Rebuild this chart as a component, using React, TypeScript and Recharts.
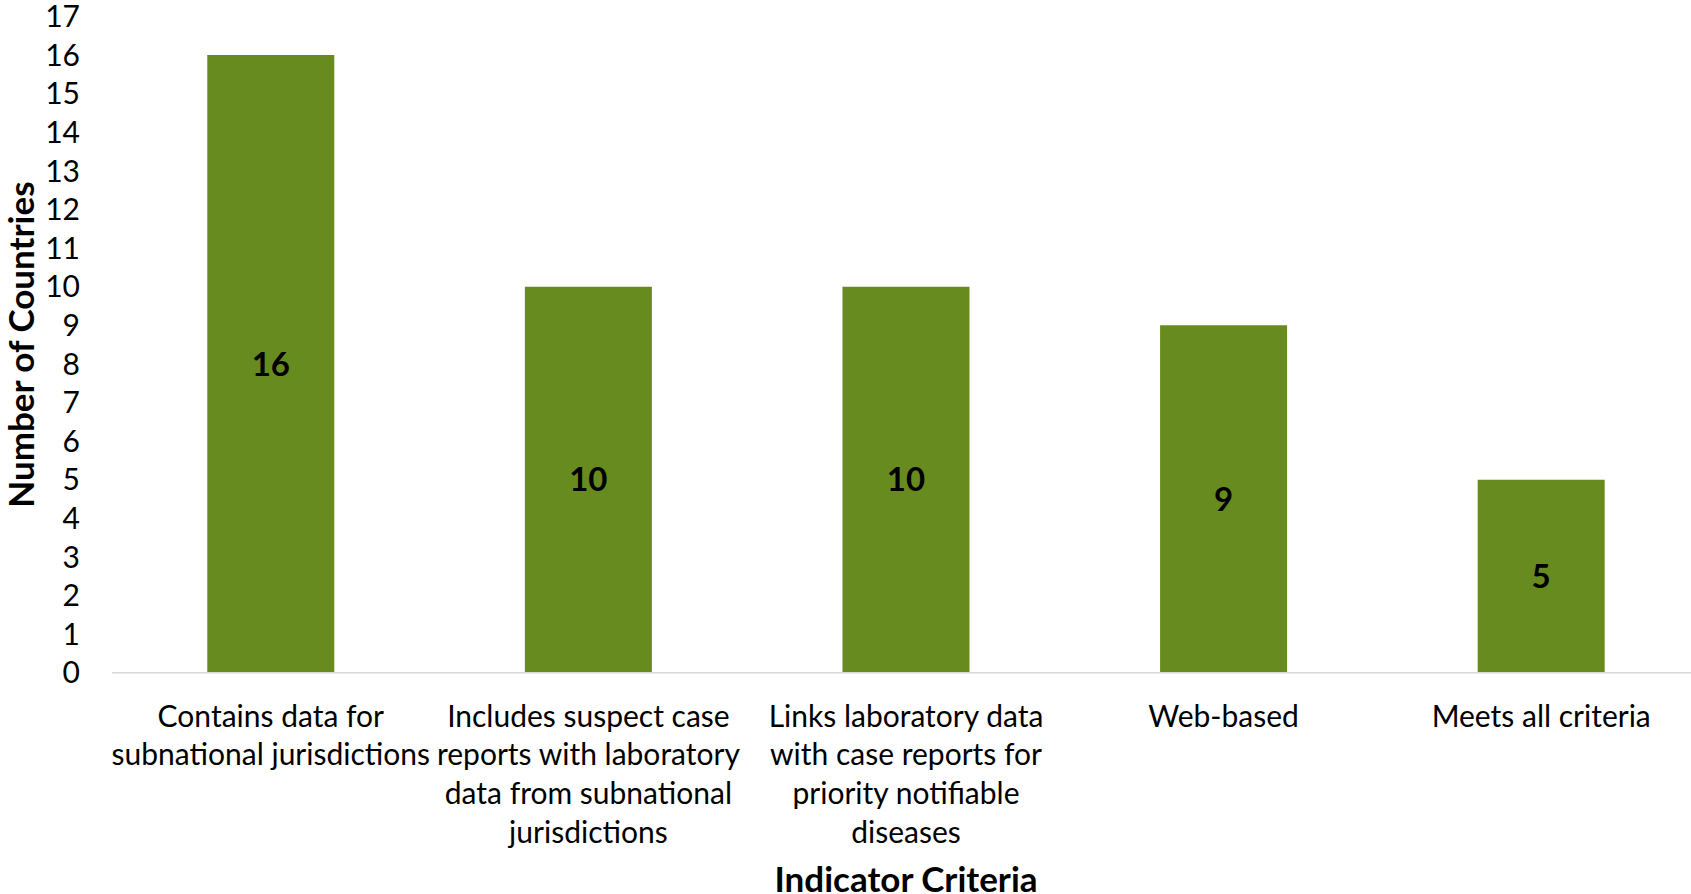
import React from "react";
import { Bar, BarChart, LabelList, XAxis, YAxis } from "recharts";

const CATEGORIES = [
  "Contains data for\nsubnational jurisdictions",
  "Includes suspect case\nreports with laboratory\ndata from subnational\njurisdictions",
  "Links laboratory data\nwith case reports for\npriority notifiable\ndiseases",
  "Web-based",
  "Meets all criteria",
];
const COUNTRIES = [16, 10, 10, 9, 5];
const Y_TICKS = [0, 1, 2, 3, 4, 5, 6, 7, 8, 9, 10, 11, 12, 13, 14, 15, 16, 17];

const FONT = "Lato, 'Noto Sans', sans-serif";
const GREEN = "#678B1F";
const FONT_SIZE = 30;
const TITLE_SIZE = 35;
const LABEL_SIZE = 33;
const LINE_H = 38.6;

const data = CATEGORIES.map((name, i) => ({ name, value: COUNTRIES[i] }));

function CategoryTick(props: any) {
  const { x, y, payload } = props;
  const lines = String(payload.value).split("\n");
  return (
    <text
      x={x}
      y={y + 42}
      textAnchor="middle"
      dominantBaseline="central"
      fontFamily={FONT}
      fontSize={FONT_SIZE}
      fill="#000"
    >
      {lines.map((line, i) => (
        <tspan key={i} x={x} dy={i === 0 ? 0 : LINE_H}>
          {line}
        </tspan>
      ))}
    </text>
  );
}

export default function App() {
  return (
    <div
      style={{
        position: "absolute",
        left: 0,
        top: 0,
        width: 1691,
        height: 894,
        overflow: "hidden",
        background: "#fff",
      }}
    >
      <BarChart
        width={1700}
        height={894}
        data={data}
        margin={{ top: 16.5, right: 0, bottom: 0, left: 0 }}
        barCategoryGap="30%"
      >
        <XAxis
          dataKey="name"
          interval={0}
          height={221.3}
          tickSize={0}
          tickMargin={0}
          tickLine={false}
          axisLine={{ stroke: "#D9D9D9", strokeWidth: 1.5 }}
          tick={<CategoryTick />}
          label={{
            content: (p: any) => {
              const vb = p.viewBox;
              return (
                <text
                  x={vb.x + vb.width / 2}
                  y={vb.y + 205}
                  textAnchor="middle"
                  dominantBaseline="central"
                  fontFamily={FONT}
                  fontWeight="bold"
                  fontSize={TITLE_SIZE}
                  fill="#000"
                >
                  Indicator Criteria
                </text>
              );
            },
          }}
        />
        <YAxis
          width={112}
          domain={[0, 17]}
          ticks={Y_TICKS}
          interval={0}
          tickSize={0}
          tickMargin={32}
          tickLine={false}
          axisLine={false}
          tick={{ fontFamily: FONT, fontSize: FONT_SIZE, fill: "#000" }}
          label={{
            content: (p: any) => {
              const vb = p.viewBox;
              const cx = 20;
              const cy = vb.y + vb.height / 2;
              return (
                <text
                  x={cx}
                  y={cy}
                  transform={`rotate(-90, ${cx}, ${cy})`}
                  textAnchor="middle"
                  dominantBaseline="central"
                  fontFamily={FONT}
                  fontWeight="bold"
                  fontSize={TITLE_SIZE}
                  fill="#000"
                >
                  Number of Countries
                </text>
              );
            },
          }}
        />
        <Bar dataKey="value" fill={GREEN} isAnimationActive={false}>
          <LabelList
            dataKey="value"
            position="center"
            fontFamily={FONT}
            fontWeight="bold"
            fontSize={LABEL_SIZE}
            fill="#000"
          />
        </Bar>
      </BarChart>
    </div>
  );
}
